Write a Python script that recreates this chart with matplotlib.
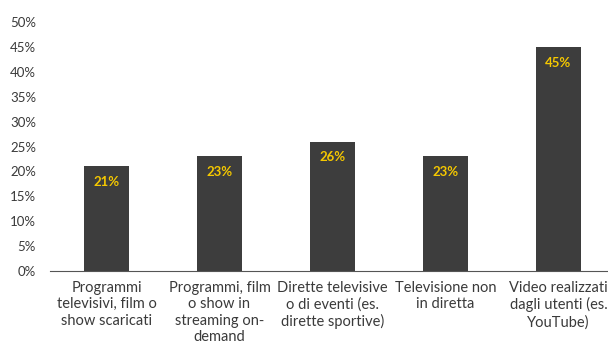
import matplotlib.pyplot as plt
from matplotlib.ticker import PercentFormatter

categories = [
    "Programmi\ntelevisivi, film o\nshow scaricati",
    "Programmi, film\no show in\nstreaming on-\ndemand",
    "Dirette televisive\no di eventi (es.\ndirette sportive)",
    "Televisione non\nin diretta",
    "Video realizzati\ndagli utenti (es.\nYouTube)",
]
values = [0.21, 0.23, 0.26, 0.23, 0.45]
value_labels = ["21%", "23%", "26%", "23%", "45%"]
yticks = [0, 0.05, 0.10, 0.15, 0.20, 0.25, 0.30, 0.35, 0.40, 0.45, 0.50]

plt.rcParams['font.family'] = ['Lato', 'DejaVu Sans']

fig = plt.figure(figsize=(6.08, 3.45), dpi=100)
ax = fig.add_axes([50 / 608, 1 - 271 / 345, 565 / 608, (271 - 22) / 345])

x = range(len(categories))
bars = ax.bar(x, values, width=0.4, color="#3d3d3d")

for b, lab in zip(bars, value_labels):
    ax.annotate(lab, (b.get_x() + b.get_width() / 2, b.get_height()),
                xytext=(0, -7), textcoords="offset points",
                ha="center", va="top", color="#f5c800",
                fontsize=9.5, fontweight="bold")

ax.set_xlim(-0.5, len(categories) - 0.5)
ax.set_ylim(0, 0.5)
ax.set_yticks(yticks)
ax.yaxis.set_major_formatter(PercentFormatter(1.0, decimals=0))
ax.set_xticks(list(x))
ax.set_xticklabels(categories, fontsize=10.5, color="#3a3a3a", linespacing=1.22)

for s in ["top", "right", "left"]:
    ax.spines[s].set_visible(False)
ax.spines["bottom"].set_color("#555555")
ax.tick_params(axis="both", length=0, colors="#3a3a3a")
ax.tick_params(axis="y", pad=10, labelsize=9.5)
ax.tick_params(axis="x", pad=7)

fig.savefig("out.png", dpi=100)
